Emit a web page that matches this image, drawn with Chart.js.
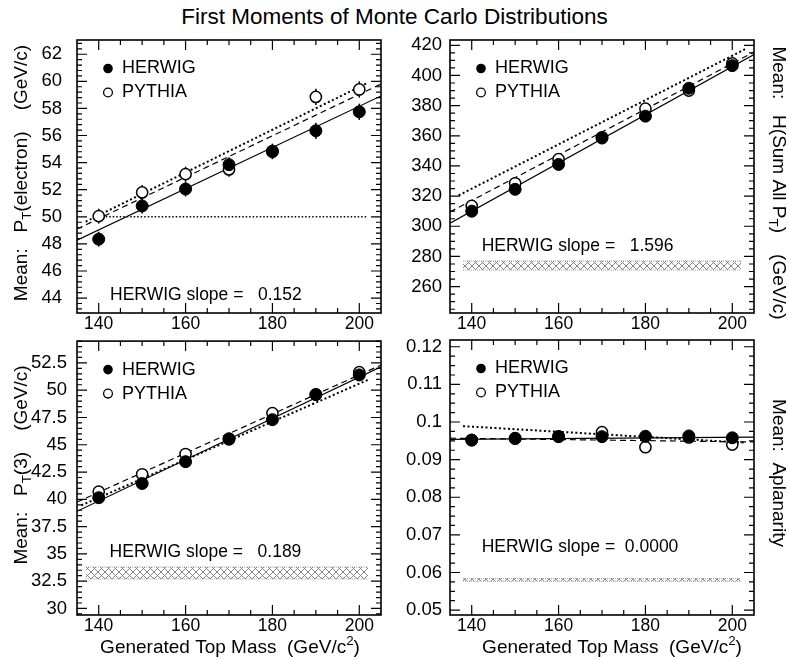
<!DOCTYPE html>
<html>
<head>
<meta charset="utf-8">
<script src="https://cdn.jsdelivr.net/npm/chart.js@4.4.1/dist/chart.umd.min.js"></script>
<style>
  body { margin: 0; background: #fff; width: 789px; height: 660px; position: relative; overflow: hidden; }
  canvas { position: absolute; }
  #title { position: absolute; left: 0; top: 5px; width: 789px; text-align: center;
           font: 22.5px 'Liberation Sans', Arial, sans-serif; line-height: 24px; color: #000; }
</style>
</head>
<body>
<div id="title">First Moments of Monte Carlo Distributions</div>
<canvas id="pe" width="395" height="345" style="left:0;top:0"></canvas>
<canvas id="ht" width="394" height="345" style="left:395px;top:0"></canvas>
<canvas id="p3" width="395" height="340" style="left:0;top:320px"></canvas>
<canvas id="ap" width="394" height="340" style="left:395px;top:320px"></canvas>
<script>
const SANS = "'Liberation Sans', Arial, Helvetica, sans-serif";

// generated top mass points and axis labels
const masses = [140, 150, 160, 170, 180, 190, 200];
const massTicks = [140, 160, 180, 200];

// <P_T(electron)>
const eleHerwig = [48.35, 50.8, 52.05, 53.85, 54.8, 56.35, 57.75];
const eleHerwigErr = [0.55, 0.55, 0.55, 0.55, 0.55, 0.6, 0.6];
const elePythia = [50.05, 51.8, 53.15, 53.5, 54.85, 58.85, 59.4];
const elePythiaErr = [0.55, 0.55, 0.55, 0.55, 0.55, 0.6, 0.6];
const eleFitX = [135, 205];
const eleSolid = [48.28, 58.92];
const eleDashed = [49.1, 59.8];
const eleDotX = [137, 202];
const eleDotted = [49.64, 59.9];
const eleCutX = [140, 202];
const eleCut = [50, 50];
const eleTicks = [44, 46, 48, 50, 52, 54, 56, 58, 60, 62];

// <H> = sum of all P_T
const htHerwig = [310, 324.5, 341, 358.5, 373, 391.5, 406.5];
const htPythia = [313.5, 328.5, 344.5, 359, 378, 390, 408];
const htFitX = [135, 205];
const htSolid = [302.1, 413.9];
const htDashed = [309.5, 415.5];
const htDotX = [137, 203];
const htDotted = [320.5, 417.5];
const htBandX = [138, 202];
const htBand = [271, 277];
const htTicks = [260, 280, 300, 320, 340, 360, 380, 400, 420];

// <P_T(3)>
const pt3Herwig = [40.15, 41.45, 43.45, 45.55, 47.3, 49.6, 51.4];
const pt3Pythia = [40.7, 42.3, 44.15, 45.5, 47.9, 49.6, 51.65];
const pt3FitX = [135, 205];
const pt3Solid = [38.9, 52.15];
const pt3Dashed = [39.75, 52.3];
const pt3DotX = [136, 202];
const pt3Dotted = [39.45, 50.95];
const pt3BandX = [137, 202];
const pt3Band = [32.7, 33.8];
const pt3Ticks = [30, 32.5, 35, 37.5, 40, 42.5, 45, 47.5, 50, 52.5];

// <aplanarity>
const aplHerwig = [0.0952, 0.0956, 0.0961, 0.0961, 0.0962, 0.0963, 0.0958];
const aplPythia = [0.0952, 0.0957, 0.0962, 0.0973, 0.0933, 0.0959, 0.0940];
const aplFitX = [135, 205];
const aplSolid = [0.0954, 0.0960];
const aplDashed = [0.0957, 0.0947];
const aplDotX = [138, 203];
const aplDotted = [0.0989, 0.0945];
const aplBandX = [138, 202];
const aplBand = [0.0577, 0.0584];
const aplTicks = [0.05, 0.06, 0.07, 0.08, 0.09, 0.1, 0.11, 0.12];

const pts = (xs, ys) => xs.map((x, i) => ({ x, y: ys[i] }));

// cross-hatch fill for the bands
const hatch = (() => {
  const c = document.createElement('canvas');
  c.width = 7; c.height = 7;
  const g = c.getContext('2d');
  g.strokeStyle = '#777';
  g.lineWidth = 0.9;
  g.beginPath();
  g.moveTo(0, 0); g.lineTo(7, 7);
  g.moveTo(7, 0); g.lineTo(0, 7);
  g.stroke();
  return g.createPattern(c, 'repeat');
})();

function drawRich(ctx, parts, x, y, size, angle) {
  ctx.save();
  ctx.translate(x, y);
  ctx.rotate(angle);
  ctx.textBaseline = 'middle';
  ctx.textAlign = 'left';
  const fontOf = p => `${p.sub || p.sup ? size * 0.7 : size}px ${SANS}`;
  let w = 0;
  parts.forEach(p => { ctx.font = fontOf(p); w += ctx.measureText(p.t).width; });
  let cx = -w / 2;
  parts.forEach(p => {
    ctx.font = fontOf(p);
    const dy = p.sub ? size * 0.3 : p.sup ? -size * 0.35 : 0;
    ctx.fillText(p.t, cx, dy);
    cx += ctx.measureText(p.t).width;
  });
  ctx.restore();
}

// frame with inward ticks on all four sides
const framePlugin = {
  id: 'frame',
  afterDraw(chart, args, o) {
    const { ctx, chartArea: a, scales: { x, y } } = chart;
    ctx.save();
    ctx.strokeStyle = '#000';
    ctx.lineWidth = 1.2;
    ctx.beginPath();
    for (let v = 140; v <= 200; v += 5) {
      const px = x.getPixelForValue(v);
      const len = v % 20 === 0 ? 10 : 5;
      ctx.moveTo(px, a.bottom); ctx.lineTo(px, a.bottom - len);
      ctx.moveTo(px, a.top); ctx.lineTo(px, a.top + len);
    }
    for (let k = Math.ceil(y.min / o.minor - 1e-6); k * o.minor <= y.max + 1e-9; k++) {
      const v = k * o.minor;
      const r = v / o.major;
      const len = Math.abs(r - Math.round(r)) < 1e-6 ? 10 : 5;
      const py = y.getPixelForValue(v);
      ctx.moveTo(a.left, py); ctx.lineTo(a.left + len, py);
      ctx.moveTo(a.right, py); ctx.lineTo(a.right - len, py);
    }
    ctx.stroke();
    ctx.lineWidth = 1.6;
    ctx.strokeRect(a.left, a.top, a.right - a.left, a.bottom - a.top);
    ctx.restore();
  }
};

// vertical error bars under the markers
const errorBars = {
  id: 'errorBars',
  beforeDatasetsDraw(chart) {
    const { ctx, scales: { x, y } } = chart;
    ctx.save();
    ctx.strokeStyle = '#000';
    ctx.lineWidth = 1.5;
    chart.data.datasets.forEach(ds => {
      if (!ds.errors) return;
      ds.data.forEach((p, i) => {
        const px = x.getPixelForValue(p.x);
        ctx.beginPath();
        ctx.moveTo(px, y.getPixelForValue(p.y - ds.errors[i]));
        ctx.lineTo(px, y.getPixelForValue(p.y + ds.errors[i]));
        ctx.stroke();
      });
    });
    ctx.restore();
  }
};

// legend, slope text and axis titles
const notes = {
  id: 'notes',
  afterDraw(chart, args, o) {
    const { ctx, chartArea: a, scales: { x, y } } = chart;
    const ds = chart.data.datasets;
    ctx.save();
    ctx.fillStyle = '#000';
    ctx.strokeStyle = '#000';
    const lx = a.left + 31, ly = a.top + 28.5;
    ctx.beginPath(); ctx.arc(lx, ly, 4.8, 0, Math.PI * 2); ctx.fill();
    ctx.lineWidth = 1.3;
    ctx.beginPath(); ctx.arc(lx, ly + 24, 4.4, 0, Math.PI * 2); ctx.stroke();
    ctx.font = `18px ${SANS}`;
    ctx.textBaseline = 'middle';
    ctx.textAlign = 'left';
    ctx.fillText(ds[0].label, lx + 14, ly);
    ctx.fillText(ds[1].label, lx + 14, ly + 24);
    ctx.font = `17.5px ${SANS}`;
    ctx.fillText(o.slope, x.getPixelForValue(o.slopeAt[0]), y.getPixelForValue(o.slopeAt[1]));
    drawRich(ctx, o.yTitle, o.yTitleAt[0], o.yTitleAt[1], 19, o.yTitleAngle);
    if (o.xTitle) drawRich(ctx, o.xTitle, o.xTitleAt[0], o.xTitleAt[1], 19, 0);
    ctx.restore();
  }
};

const xTitle = [{ t: 'Generated Top Mass  (GeV/c' }, { t: '2', sup: true }, { t: ')' }];

function panel(id, p) {
  const line = (xs, ys, extra) => Object.assign({
    type: 'line', data: pts(xs, ys), borderColor: '#000', borderWidth: 1.2,
    pointRadius: 0, fill: false, tension: 0
  }, extra);
  const datasets = [
    { label: 'HERWIG', data: pts(masses, p.herwig), errors: p.herwigErr,
      pointRadius: 6, pointBackgroundColor: '#000', pointBorderColor: '#000', pointBorderWidth: 1 },
    { label: 'PYTHIA', data: pts(masses, p.pythia), errors: p.pythiaErr,
      pointRadius: 5.6, pointBackgroundColor: '#fff', pointBorderColor: '#000', pointBorderWidth: 1.5 },
    line(p.fitX, p.solid),
    line(p.fitX, p.dashed, { borderDash: [6, 4] }),
    line(p.dotX, p.dotted, { borderDash: [2, 2.5], borderWidth: 2 })
  ];
  if (p.cut) datasets.push(line(p.cutX, p.cut, { borderDash: [1.5, 2], borderWidth: 1.4 }));
  if (p.band) {
    datasets.push(line(p.bandX, [p.band[0], p.band[0]], { borderColor: '#888', borderWidth: 0.8, borderDash: [1, 1] }));
    datasets.push(line(p.bandX, [p.band[1], p.band[1]], { borderColor: '#888', borderWidth: 0.8, borderDash: [1, 1],
      fill: '-1', backgroundColor: hatch }));
  }

  return new Chart(document.getElementById(id), {
    type: 'scatter',
    data: { datasets },
    options: {
      responsive: false,
      animation: false,
      events: [],
      layout: { padding: p.pad },
      plugins: {
        legend: { display: false },
        tooltip: { enabled: false },
        frame: { major: p.major, minor: p.minor },
        notes: p.notes
      },
      scales: {
        x: {
          type: 'linear', min: 135, max: 205,
          grid: { display: false, drawTicks: false },
          border: { display: false },
          ticks: { padding: 1, autoSkip: false, maxRotation: 0, color: '#000',
                   font: { family: SANS, size: 17.5 }, callback: v => String(v) },
          afterBuildTicks: s => { s.ticks = massTicks.map(v => ({ value: v })); },
          afterFit: s => { s.height = p.xh; }
        },
        y: {
          type: 'linear', min: p.yMin, max: p.yMax,
          grid: { display: false, drawTicks: false },
          border: { display: false },
          ticks: { padding: p.yPad, autoSkip: false, color: '#000',
                   font: { family: SANS, size: 18.5 }, callback: v => String(v) },
          afterBuildTicks: s => { s.ticks = p.yTicks.map(v => ({ value: v })); },
          afterFit: s => { s.width = p.yw; }
        }
      }
    },
    plugins: [errorBars, framePlugin, notes]
  });
}

panel('pe', {
  herwig: eleHerwig, herwigErr: eleHerwigErr, pythia: elePythia, pythiaErr: elePythiaErr,
  fitX: eleFitX, solid: eleSolid, dashed: eleDashed, dotX: eleDotX, dotted: eleDotted,
  cutX: eleCutX, cut: eleCut,
  yMin: 42.9, yMax: 63.05, yTicks: eleTicks, major: 2, minor: 0.4,
  pad: { top: 40, right: 14, left: 0, bottom: 0 }, yw: 77, xh: 32, yPad: 15,
  notes: {
    slope: 'HERWIG slope =   0.152', slopeAt: [142.6, 44.2],
    yTitle: [{ t: 'Mean:   P' }, { t: 'T', sub: true }, { t: '(electron)    (GeV/c)' }],
    yTitleAt: [22, 173], yTitleAngle: -Math.PI / 2
  }
});

panel('ht', {
  herwig: htHerwig, pythia: htPythia,
  fitX: htFitX, solid: htSolid, dashed: htDashed, dotX: htDotX, dotted: htDotted,
  bandX: htBandX, band: htBand,
  yMin: 242.5, yMax: 423.5, yTicks: htTicks, major: 20, minor: 5,
  pad: { top: 40, right: 35, left: 0, bottom: 0 }, yw: 55, xh: 32, yPad: 8,
  notes: {
    slope: 'HERWIG slope =   1.596', slopeAt: [142.3, 287],
    yTitle: [{ t: 'Mean:   H(Sum All P' }, { t: 'T', sub: true }, { t: ')    (GeV/c)' }],
    yTitleAt: [383, 183], yTitleAngle: Math.PI / 2
  }
});

panel('p3', {
  herwig: pt3Herwig, pythia: pt3Pythia,
  fitX: pt3FitX, solid: pt3Solid, dashed: pt3Dashed, dotX: pt3DotX, dotted: pt3Dotted,
  bandX: pt3BandX, band: pt3Band,
  yMin: 29.4, yMax: 54.5, yTicks: pt3Ticks, major: 2.5, minor: 0.5,
  pad: { top: 20, right: 14, left: 0, bottom: 0 }, yw: 77, xh: 45, yPad: 10,
  notes: {
    slope: 'HERWIG slope =   0.189', slopeAt: [142.5, 35.2],
    yTitle: [{ t: 'Mean:   P' }, { t: 'T', sub: true }, { t: '(3)    (GeV/c)' }],
    yTitleAt: [22, 145], yTitleAngle: -Math.PI / 2,
    xTitle, xTitleAt: [230, 328]
  }
});

panel('ap', {
  herwig: aplHerwig, pythia: aplPythia,
  fitX: aplFitX, solid: aplSolid, dashed: aplDashed, dotX: aplDotX, dotted: aplDotted,
  bandX: aplBandX, band: aplBand,
  yMin: 0.0487, yMax: 0.1218, yTicks: aplTicks, major: 0.01, minor: 0.0025,
  pad: { top: 20, right: 35, left: 0, bottom: 0 }, yw: 55, xh: 45, yPad: 8,
  notes: {
    slope: 'HERWIG slope =  0.0000', slopeAt: [142.3, 0.0666],
    yTitle: [{ t: 'Mean:  Aplanarity' }],
    yTitleAt: [383, 153], yTitleAngle: Math.PI / 2,
    xTitle, xTitleAt: [217, 328]
  }
});
</script>
</body>
</html>
